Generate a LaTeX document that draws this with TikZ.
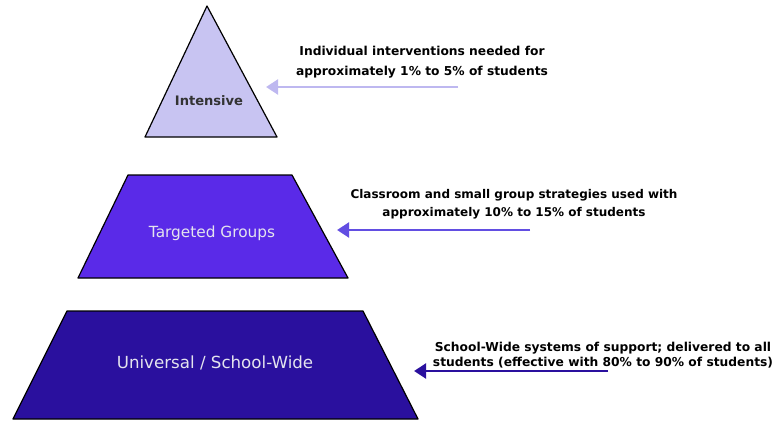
\documentclass[tikz,border=0pt]{standalone}
\usepackage{fontspec}
\setmainfont{DejaVu Sans}
\usetikzlibrary{arrows.meta}
\definecolor{toplav}{RGB}{200,196,242}
\definecolor{toparrow}{RGB}{190,184,240}
\definecolor{midpurp}{RGB}{90,42,232}
\definecolor{midarrow}{RGB}{98,78,226}
\definecolor{basenavy}{RGB}{42,16,158}
\definecolor{labelgray}{RGB}{228,228,238}
\tikzset{
  tier/.style={draw=black, line width=0.9pt, line join=round},
  note/.style={align=center, font=\bfseries\fontsize{9}{13.5}\selectfont},
  tierlabel/.style={font=\fontsize{11.5}{13}\selectfont, text=labelgray},
  pointer/.style={line width=2.2pt, -{Triangle[length=9pt,width=11pt]}}
}
\begin{document}
\begin{tikzpicture}[x=0.75pt,y=-0.75pt]
    \useasboundingbox (0,0) rectangle (780,421);
    \fill[white] (0,0) rectangle (780,421);
    % pyramid tiers
    \draw[tier, fill=toplav] (207,6) -- (277,137) -- (145,137) -- cycle;
    \node[tierlabel, text=black!80, font=\bfseries\fontsize{9.8}{11}\selectfont] (intensive) at (209,101) {Intensive};
    \draw[tier, fill=midpurp] (128,175) -- (292,175) -- (348,278) -- (78,278) -- cycle;
    \node[tierlabel] (targeted) at (212,233) {Targeted Groups};
    \draw[tier, fill=basenavy] (67,311) -- (363,311) -- (418,419) -- (13,419) -- cycle;
    \node[tierlabel, font=\fontsize{12.5}{14}\selectfont] (universal) at (215,363) {Universal / School-Wide};
    % notes
    \node[note, font=\bfseries\fontsize{9.2}{15}\selectfont] (note1) at (422,62) {Individual interventions needed for\\approximately 1\% to 5\% of students};
    \node[note] (note2) at (514,204) {Classroom and small group strategies used with\\approximately 10\% to 15\% of students};
    \node[note, font=\bfseries\fontsize{9.2}{10.8}\selectfont] (note3) at (603,355) {School-Wide systems of support; delivered to all\\students (effective with 80\% to 90\% of students)};
    % pointers
    \coordinate (tail1) at (458,87);
    \coordinate (tip1) at (266,87);
    \coordinate (tail2) at (530,230);
    \coordinate (tip2) at (337,230);
    \coordinate (tail3) at (608,371);
    \coordinate (tip3) at (414,371);
    \draw[pointer, toparrow] (tail1) -- (tip1);
    \draw[pointer, midarrow] (tail2) -- (tip2);
    \draw[pointer, basenavy] (tail3) -- (tip3);
  \end{tikzpicture}
\end{document}
